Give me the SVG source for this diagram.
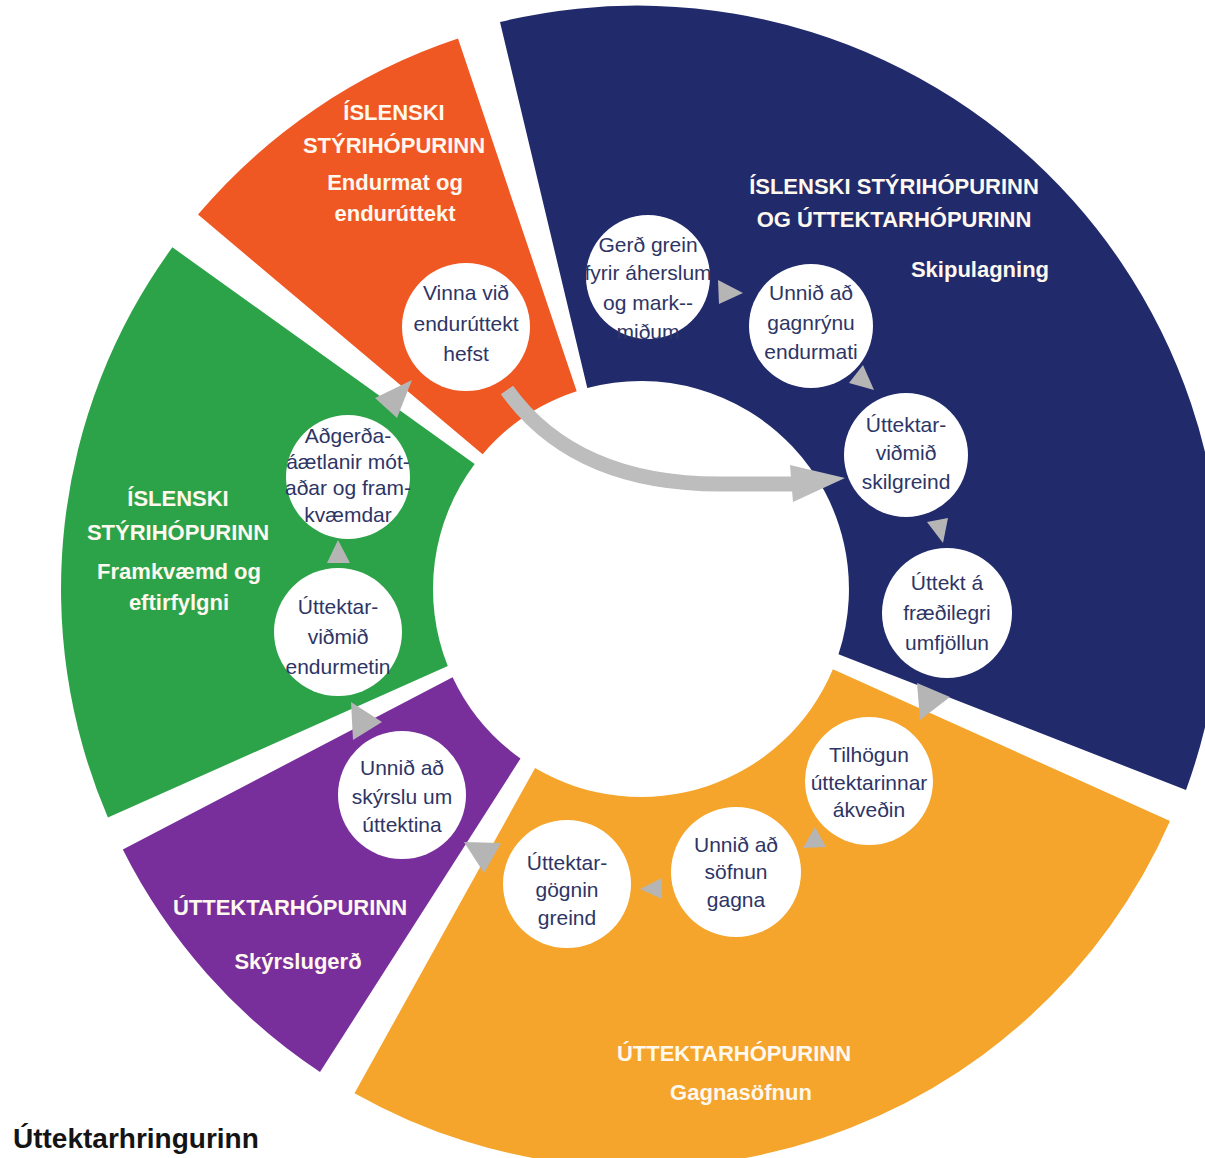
<svg xmlns="http://www.w3.org/2000/svg" width="1205" height="1158" viewBox="0 0 1205 1158">
<style>
.node circle{fill:#ffffff}
.node text{font-family:"Liberation Sans",Arial,sans-serif;font-size:21px;fill:#2e3565;text-anchor:middle}
.lbl{font-family:"Liberation Sans",Arial,sans-serif;font-size:22px;font-weight:bold;fill:#fff8ee;text-anchor:middle}
.tri{fill:#b5b5b5}
</style>
<rect width="1205" height="1158" fill="#ffffff"/>
<g id="seg-endurmat">
<path d="M198,214.6 A580,580 0 0 1 458,38.6 L576.7,391.2 A208,208 0 0 0 482.6,454.2 Z" fill="#ef5723"/>
<text class="lbl"><tspan x="394" y="120">ÍSLENSKI</tspan><tspan x="394" y="153">STÝRIHÓPURINN</tspan><tspan x="395" y="190">Endurmat og</tspan><tspan x="395" y="221">endurúttekt</tspan></text>
</g>
<g id="seg-skipulagning">
<path d="M500,22 A584,584 0 0 1 1186,790 L838.5,654.2 A208,208 0 0 0 587.3,388.1 Z" fill="#212b6c"/>
<text class="lbl"><tspan x="894" y="194">ÍSLENSKI STÝRIHÓPURINN</tspan><tspan x="894" y="227">OG ÚTTEKTARHÓPURINN</tspan><tspan x="980" y="277">Skipulagning</tspan></text>
</g>
<g id="seg-gagnasofnun">
<path d="M1170,821 A580,580 0 0 1 354.5,1093.3 L535.1,768 A208,208 0 0 0 832.9,669.3 Z" fill="#f5a52b"/>
<text class="lbl"><tspan x="734" y="1061">ÚTTEKTARHÓPURINN</tspan><tspan x="741" y="1100">Gagnasöfnun</tspan></text>
</g>
<g id="seg-skyrslugerd">
<path d="M320,1072.1 A580,580 0 0 1 122.8,849.6 L452.6,677.2 A208,208 0 0 0 520.5,758.5 Z" fill="#782f9b"/>
<text class="lbl"><tspan x="290" y="915">ÚTTEKTARHÓPURINN</tspan><tspan x="298" y="969">Skýrslugerð</tspan></text>
</g>
<g id="seg-framkvaemd">
<path d="M107.9,817.5 A580,580 0 0 1 172.4,247.3 L474.7,464.1 A208,208 0 0 0 447.8,666.1 Z" fill="#2da349"/>
<text class="lbl"><tspan x="178" y="506">ÍSLENSKI</tspan><tspan x="178" y="540">STÝRIHÓPURINN</tspan><tspan x="179" y="579">Framkvæmd og</tspan><tspan x="179" y="610">eftirfylgni</tspan></text>
</g>
<g id="connectors">
<path d="M507,390 C550,450 620,484 720,484 L793,484" fill="none" stroke="#bdbdbd" stroke-width="15"/>
<polygon points="790,465 845,478 793,502" fill="#bdbdbd"/>
<polygon class="tri" points="718,280 743,293 719,304"/>
<polygon class="tri" points="863,365 849,383 874,390"/>
<polygon class="tri" points="927,522 948,518 943,543"/>
<polygon class="tri" points="917,683 950,697 920,720"/>
<polygon class="tri" points="815,827 826,847 803,848"/>
<polygon class="tri" points="640,889 662,878 662,899"/>
<polygon class="tri" points="464,842 501,843 484,873"/>
<polygon class="tri" points="351,702 382,722 353,740"/>
<polygon class="tri" points="338,540 327,563 350,563"/>
<polygon class="tri" points="375,398 412,380 397,418"/>
</g>
<g id="node-gerd" class="node"><circle cx="648" cy="277" r="62"/><text><tspan x="648" y="252">Gerð grein</tspan><tspan x="648" y="280">fyrir áherslum</tspan><tspan x="648" y="310">og mark--</tspan><tspan x="648" y="339">miðum</tspan></text></g>
<g id="node-gagnryni" class="node"><circle cx="811" cy="326" r="62"/><text><tspan x="811" y="300">Unnið að</tspan><tspan x="811" y="330">gagnrýnu</tspan><tspan x="811" y="359">endurmati</tspan></text></g>
<g id="node-skilgreind" class="node"><circle cx="906" cy="455" r="62"/><text><tspan x="906" y="432">Úttektar-</tspan><tspan x="906" y="460">viðmið</tspan><tspan x="906" y="489">skilgreind</tspan></text></g>
<g id="node-fraedileg" class="node"><circle cx="947" cy="613" r="65"/><text><tspan x="947" y="590">Úttekt á</tspan><tspan x="947" y="620">fræðilegri</tspan><tspan x="947" y="650">umfjöllun</tspan></text></g>
<g id="node-tilhogun" class="node"><circle cx="869" cy="781" r="64"/><text><tspan x="869" y="762">Tilhögun</tspan><tspan x="869" y="790">úttektarinnar</tspan><tspan x="869" y="817">ákveðin</tspan></text></g>
<g id="node-sofnun" class="node"><circle cx="736" cy="872" r="65"/><text><tspan x="736" y="852">Unnið að</tspan><tspan x="736" y="879">söfnun</tspan><tspan x="736" y="907">gagna</tspan></text></g>
<g id="node-greind" class="node"><circle cx="567" cy="884" r="64"/><text><tspan x="567" y="870">Úttektar-</tspan><tspan x="567" y="897">gögnin</tspan><tspan x="567" y="925">greind</tspan></text></g>
<g id="node-skyrsla" class="node"><circle cx="402" cy="795" r="64"/><text><tspan x="402" y="775">Unnið að</tspan><tspan x="402" y="804">skýrslu um</tspan><tspan x="402" y="832">úttektina</tspan></text></g>
<g id="node-endurmetin" class="node"><circle cx="338" cy="632" r="64"/><text><tspan x="338" y="614">Úttektar-</tspan><tspan x="338" y="644">viðmið</tspan><tspan x="338" y="674">endurmetin</tspan></text></g>
<g id="node-adgerda" class="node"><circle cx="348" cy="477" r="62"/><text><tspan x="348" y="443">Aðgerða-</tspan><tspan x="348" y="469">áætlanir mót-</tspan><tspan x="348" y="495">aðar og fram-</tspan><tspan x="348" y="522">kvæmdar</tspan></text></g>
<g id="node-endurutt" class="node"><circle cx="466" cy="327" r="64"/><text><tspan x="466" y="300">Vinna við</tspan><tspan x="466" y="331">endurúttekt</tspan><tspan x="466" y="361">hefst</tspan></text></g>
<text x="13" y="1148" font-family="Liberation Sans,Arial,sans-serif" font-size="28" font-weight="bold" fill="#141414">Úttektarhringurinn</text>
</svg>
